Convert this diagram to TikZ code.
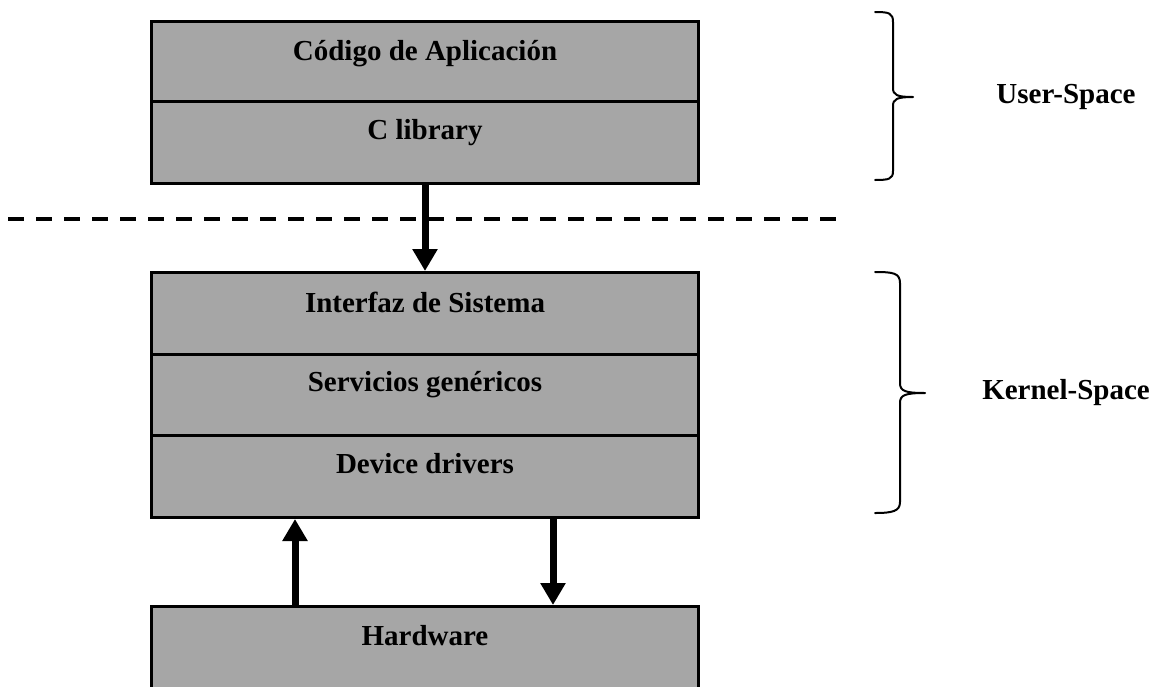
\documentclass[tikz,border=0pt]{standalone}
\usepackage{fontspec}
\setmainfont{Liberation Serif}
\usetikzlibrary{arrows.meta}
\definecolor{boxgray}{RGB}{166,166,166}
\begin{document}
\begin{tikzpicture}[x=1pt,y=-1pt,
  layer/.style={draw=black, line width=3pt, fill=boxgray, minimum width=547pt,
                inner sep=0pt, anchor=north west},
  lbl/.style={font=\fontsize{29}{34}\selectfont\bfseries, anchor=base, inner sep=0pt},
  flow/.style={line width=7pt, -{Triangle[width=24pt,length=22pt]}},
  bracepath/.style={line width=2pt, line join=round, line cap=round},
  divider/.style={line width=4pt, dash pattern=on 16pt off 12pt},
]
\useasboundingbox (0,0) rectangle (1156,686);
\clip (0,0) rectangle (1156,686);

% user-space stack
\node[layer, minimum height=80pt] (app)  at (150,20)  {};
\node[layer, minimum height=82pt] (clib) at (150,100) {};

% kernel-space stack
\node[layer, minimum height=82pt] (sys)  at (150,271) {};
\node[layer, minimum height=81pt] (serv) at (150,353) {};
\node[layer, minimum height=82pt] (drv)  at (150,434) {};

% hardware (runs off the lower edge)
\node[layer, minimum height=100pt] (hw) at (150,605) {};

% layer captions
\node[lbl] (tapp)  at ([yshift=-40pt]app.north)  {Código de Aplicación};
\node[lbl] (tclib) at ([yshift=-39pt]clib.north) {C library};
\node[lbl] (tsys)  at ([yshift=-41pt]sys.north)  {Interfaz de Sistema};
\node[lbl] (tserv) at ([yshift=-38pt]serv.north) {Servicios genéricos};
\node[lbl] (tdrv)  at ([yshift=-39pt]drv.north)  {Device drivers};
\node[lbl] (thw)   at ([yshift=-40pt]hw.north)   {Hardware};

% user / kernel boundary
\coordinate (dl) at (8,219);
\coordinate (dr) at (838,219);
\draw[divider] (dl) -- (dr);

% calls between layers
\coordinate (upx)   at (295,0);
\coordinate (downx) at (553,0);
\draw[flow] (clib.south) -- (sys.north);
\draw[flow] (hw.north -| upx) -- (drv.south -| upx);
\draw[flow] (drv.south -| downx) -- (hw.north -| downx);

% braces
\coordinate (utip) at (913,97);
\draw[bracepath] (875,12) .. controls (889,12) and (893,13) .. (893,22)
  -- (893,88) .. controls (893,95) and (897,97) .. (utip)
  (utip) .. controls (897,97) and (893,99) .. (893,106)
  -- (893,171) .. controls (893,179) and (889,180) .. (875,180);
\coordinate (ktip) at (925,393);
\draw[bracepath] (875,272) .. controls (893,272) and (900,273) .. (900,283)
  -- (900,383) .. controls (900,391) and (905,393) .. (ktip)
  (ktip) .. controls (905,393) and (900,395) .. (900,403)
  -- (900,502) .. controls (900,511) and (893,513) .. (875,513);

\node[lbl] (tuser)   at (1066,103) {User-Space};
\node[lbl] (tkernel) at (1066,399) {Kernel-Space};
\end{tikzpicture}
\end{document}
